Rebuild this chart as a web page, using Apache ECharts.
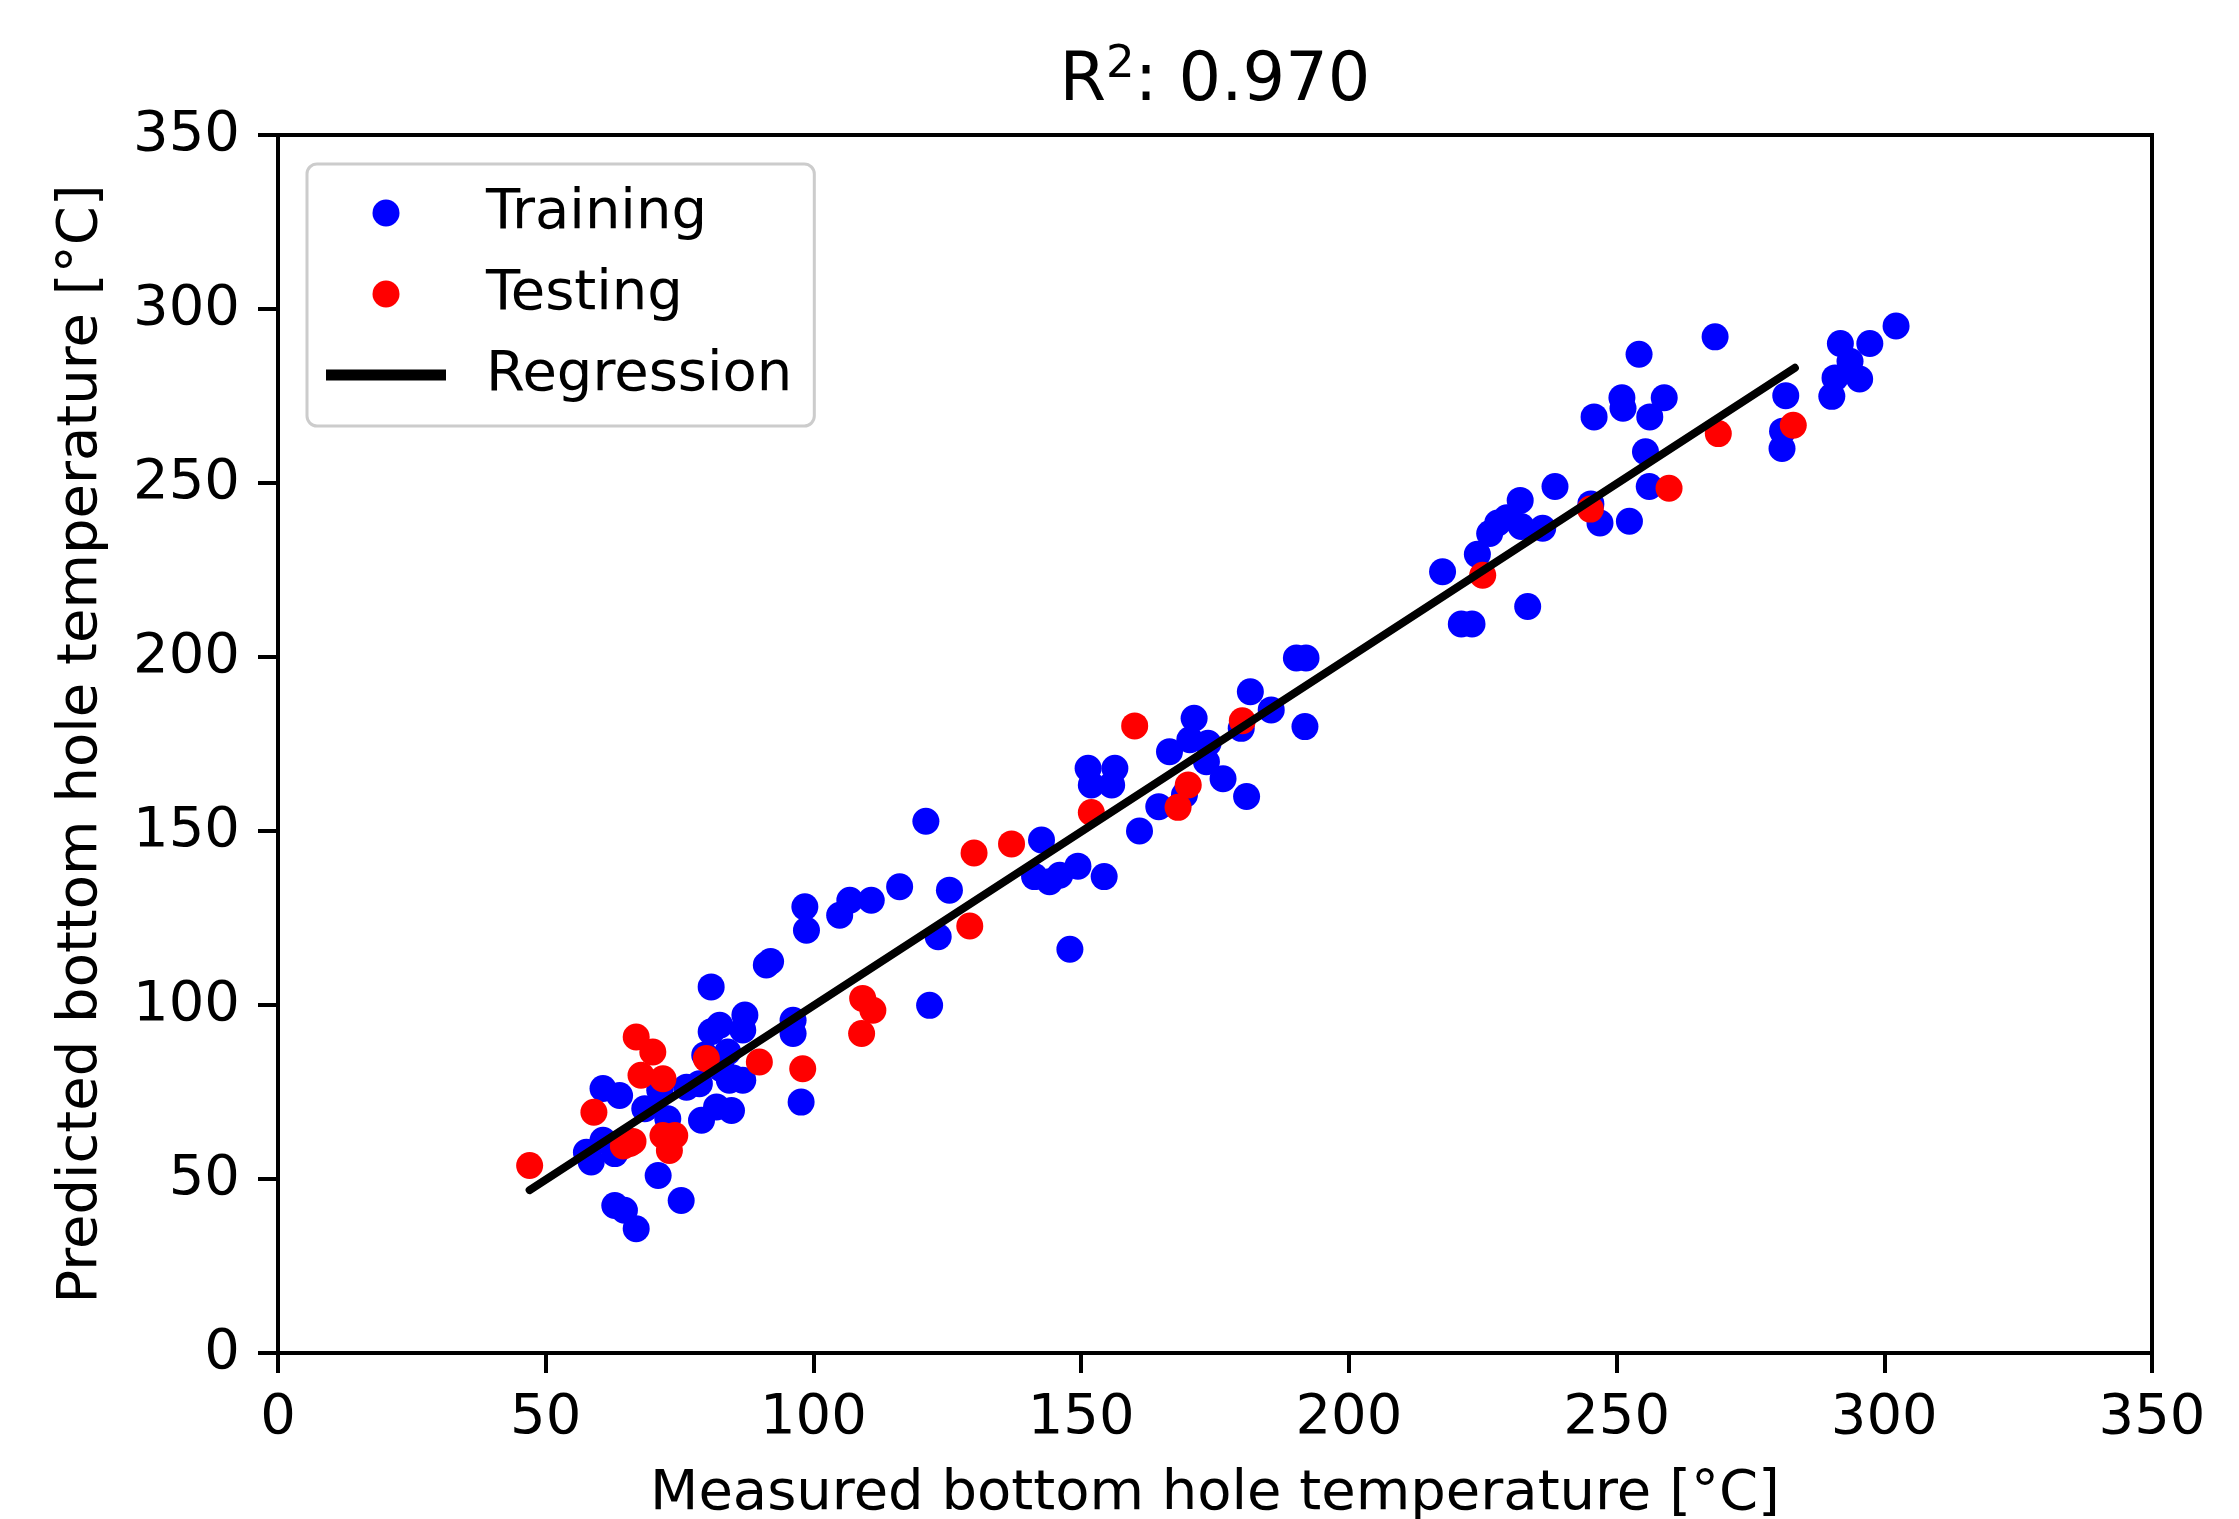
<!DOCTYPE html>
<html>
<head>
<meta charset="utf-8">
<script src="https://cdn.jsdelivr.net/npm/echarts@6/dist/echarts.min.js"></script>
<style>
html,body{margin:0;padding:0;background:#fff;}
#chart{width:2239px;height:1519px;}
</style>
</head>
<body>
<div id="chart"></div>
<script>
// ---- data ----
const titleText = 'R{sup|2}: 0.970';
const xAxisName = 'Measured bottom hole temperature [°C]';
const yAxisName = 'Predicted bottom hole temperature [°C]';
const seriesNames = ['Training', 'Testing', 'Regression'];
const axisMin = 0;
const axisMax = 350;
const axisStep = 50;

const trainingPoints = [
  [57.6, 57.7], [58.5, 54.9], [60.7, 61.1], [62.9, 57.3], [60.7, 76.0], [63.8, 74.0],
  [62.9, 42.4], [64.7, 41.0], [66.9, 35.7], [71.0, 51.0], [75.3, 43.8], [68.5, 70.2],
  [72.8, 67.3], [71.3, 75.5], [76.3, 76.4], [78.7, 77.4], [79.1, 66.9], [81.9, 70.7],
  [84.7, 69.7], [79.7, 85.6], [80.9, 92.3], [82.5, 94.2], [87.2, 97.1], [86.8, 92.8],
  [85.0, 79.0], [82.8, 81.7], [84.3, 78.4], [86.8, 78.4], [84.0, 86.5], [80.9, 105.2],
  [96.2, 95.6], [96.2, 91.8], [97.7, 72.1], [91.2, 111.5], [92.0, 112.5], [98.4, 128.2],
  [98.7, 121.5], [104.9, 125.8], [106.8, 130.1], [110.8, 130.1], [116.1, 134.0],
  [121.0, 152.8], [125.4, 133.0], [123.3, 119.6], [121.7, 99.9], [141.3, 136.9],
  [142.6, 147.4], [144.1, 135.4], [146.0, 137.3], [149.4, 139.9], [154.3, 136.9],
  [147.9, 116.0], [151.3, 168.0], [156.3, 168.0], [151.9, 163.2], [155.7, 163.2],
  [160.9, 150.0], [164.5, 157.0], [169.3, 160.4], [166.5, 172.8], [170.3, 176.2],
  [173.7, 175.2], [173.4, 169.9], [176.5, 165.0], [180.9, 159.9], [171.1, 182.4],
  [179.9, 179.5], [181.6, 190.0], [185.5, 184.8], [191.8, 180.0], [190.2, 199.7],
  [192.0, 199.7], [217.5, 224.5], [221.0, 209.5], [223.0, 209.5], [224.0, 229.5],
  [226.3, 235.5], [227.8, 238.5], [229.5, 240.0], [232.0, 245.0], [232.2, 237.5],
  [233.4, 214.5], [236.2, 237.0], [238.5, 249.0], [245.2, 244.0], [245.8, 269.0],
  [246.9, 238.5], [251.0, 274.5], [251.2, 271.5], [252.4, 239.0], [254.2, 287.0],
  [255.4, 259.0], [256.1, 249.0], [256.2, 269.0], [258.9, 274.5], [268.4, 292.0],
  [281.6, 275.1], [281.0, 264.9], [280.9, 259.9], [290.2, 274.9], [290.8, 280.2],
  [291.8, 290.1], [293.6, 285.0], [295.4, 279.9], [297.3, 290.1], [302.2, 295.1]
];

const testingPoints = [
  [47.0, 53.9], [59.0, 69.2], [64.5, 59.5], [66.3, 60.8], [65.7, 60.2], [66.9, 90.8],
  [70.0, 86.5], [67.8, 79.8], [71.9, 78.8], [71.9, 62.5], [74.1, 62.5], [73.1, 58.2],
  [80.0, 84.6], [89.9, 83.6], [98.0, 81.7], [109.2, 101.9], [111.1, 98.5], [109.0, 91.8],
  [129.2, 122.7], [130.0, 143.7], [137.0, 146.3], [151.9, 155.3], [160.0, 180.2],
  [168.1, 156.8], [170.0, 163.2], [180.1, 181.7], [225.0, 223.5], [245.1, 242.5],
  [259.8, 248.5], [269.0, 264.2], [283.0, 266.6]
];

const regressionLine = [[47.0, 46.8], [283.3, 283.1]];

// ---- chart ----
const FONT = 'DejaVu Sans';
const chart = echarts.init(document.getElementById('chart'), null, {renderer: 'canvas'});

const axisCommon = {
  type: 'value',
  min: axisMin,
  max: axisMax,
  interval: axisStep,
  axisLine: {show: true, lineStyle: {color: '#000', width: 4}},
  axisTick: {show: true, inside: false, length: 20, lineStyle: {color: '#000', width: 4}},
  splitLine: {show: false},
  nameLocation: 'middle',
  nameTextStyle: {fontFamily: FONT, fontSize: 56, color: '#000'}
};

chart.setOption({
  animation: false,
  backgroundColor: '#ffffff',
  title: {
    text: titleText,
    left: 1215,
    top: 43,
    textAlign: 'center',
    padding: 0,
    textStyle: {
      fontFamily: FONT, fontSize: 67, fontWeight: 'normal', color: '#000', lineHeight: 80,
      rich: {
        sup: {fontFamily: FONT, fontSize: 45, lineHeight: 44, verticalAlign: 'top', color: '#000'}
      }
    }
  },
  grid: {
    left: 278, right: 87, top: 135, bottom: 166,
    containLabel: false,
    outerBoundsMode: 'none',
    show: true, borderColor: '#000', borderWidth: 4, backgroundColor: 'transparent'
  },
  legend: {
    orient: 'vertical',
    left: 307,
    top: 164,
    padding: [19, 22, 21, 19],
    itemWidth: 120,
    itemHeight: 27,
    itemGap: 21,
    symbolKeepAspect: true,
    backgroundColor: 'rgba(255,255,255,0.8)',
    borderColor: '#cccccc',
    borderWidth: 3,
    borderRadius: 10,
    textStyle: {fontFamily: FONT, fontSize: 56, color: '#000', lineHeight: 60, padding: [0, 0, 0, 35]},
    data: [
      {name: seriesNames[0], icon: 'circle'},
      {name: seriesNames[1], icon: 'circle'},
      {name: seriesNames[2], icon: 'path://M0,0H120V11H0Z', itemStyle: {color: '#000'}}
    ]
  },
  xAxis: Object.assign({}, axisCommon, {
    name: xAxisName,
    nameGap: 113,
    axisLabel: {fontFamily: FONT, fontSize: 56, color: '#000', margin: 37}
  }),
  yAxis: Object.assign({}, axisCommon, {
    name: yAxisName,
    nameGap: 169,
    axisLabel: {fontFamily: FONT, fontSize: 56, color: '#000', margin: 38}
  }),
  series: [
    {
      name: seriesNames[0], type: 'scatter', data: trainingPoints,
      symbol: 'circle', symbolSize: 27,
      itemStyle: {color: '#0000ff', opacity: 1}
    },
    {
      name: seriesNames[1], type: 'scatter', data: testingPoints,
      symbol: 'circle', symbolSize: 27,
      itemStyle: {color: '#ff0000', opacity: 1}
    },
    {
      name: seriesNames[2], type: 'line', data: regressionLine,
      symbol: 'none', showSymbol: false,
      lineStyle: {color: '#000', width: 8, cap: 'round'},
      itemStyle: {color: '#000'}
    }
  ]
});
</script>
</body>
</html>
